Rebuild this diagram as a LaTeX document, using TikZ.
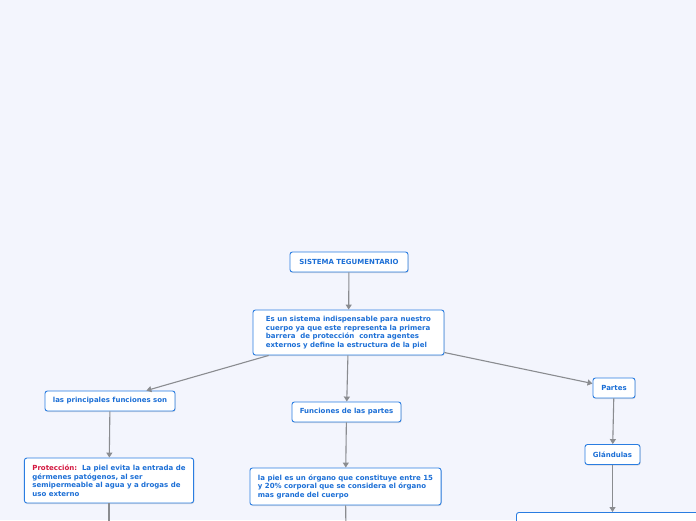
\documentclass[tikz,border=0pt]{standalone}
\usepackage{fontspec}
\setmainfont{DejaVu Sans}
\usetikzlibrary{arrows.meta,shadows}
\definecolor{map-bg}{HTML}{F3F5FD}
\definecolor{map-blue}{HTML}{2A7DE1}
\definecolor{map-text}{HTML}{1C6FD6}
\definecolor{map-red}{HTML}{D3173F}
\definecolor{map-line}{HTML}{8A8C90}

\begin{document}
\begin{tikzpicture}[x=1pt, y=-1pt,
    every node/.style={font=\fontsize{7.0}{8.5}\selectfont\bfseries, text=map-text},
    topic/.style={draw=map-blue, fill=white, line width=0.9pt, rounded corners=2.5pt,
      drop shadow={shadow xshift=0.6pt, shadow yshift=-1pt, opacity=0.25},
      minimum height=20pt, inner sep=0pt},
    textbox/.style={topic, align=left, inner xsep=8pt, inner ysep=5pt},
    link/.style={draw=map-line, line width=1.1pt, -{Triangle[length=5pt, width=6pt]}}]
    \fill[map-bg] (0,0) rectangle (696,520);
    \clip (0,0) rectangle (696,520);
    % top of the map
    \node[topic, minimum width=118pt] (sis) at (349, 262) {SISTEMA TEGUMENTARIO};
    \node[textbox, minimum width=191pt, minimum height=45pt] (desc) at (348.5, 332.5)
      {Es un sistema indispensable para nuestro\\
       cuerpo ya que este representa la primera\\
       barrera\ \ de protección\ \ contra agentes\\
       externos y define la estructura de la piel};
    % second level
    \node[topic, minimum width=130pt] (func) at (110, 401) {las principales funciones son};
    \node[topic, minimum width=109pt] (fpart) at (346.5, 412) {Funciones de las partes};
    \node[topic, minimum width=42pt] (part) at (614, 388) {Partes};
    \node[topic, minimum width=55pt] (glan) at (612.5, 454.5) {Glándulas};
    % third level
    \node[textbox, minimum width=168pt, minimum height=45pt] (prot) at (109, 480.5)
      {\textcolor{map-red}{Protección:}\ \ La piel evita la entrada de\\
       gérmenes patógenos, al ser\\
       semipermeable al agua y a drogas de\\
       uso externo};
    \node[textbox, minimum width=191pt, minimum height=37pt] (org) at (345.5, 486.5)
      {la piel es un órgano que constituye entre 15\\
       y 20\% corporal que se considera el órgano\\
       mas grande del cuerpo};
    \node[textbox, anchor=north west, minimum width=200pt, minimum height=40pt,
      inner ysep=3pt] (sud) at (516, 512)
      {\textcolor{map-red}{Glándulas sudoríparas:}\ \ producen el sudor\\
       que regula la temperatura};
    \coordinate (protdown) at (109, 540);
    \coordinate (orgdown) at (346, 540);
    % connectors
    \draw[link] (sis) -- (desc);
    \draw[link] (desc) -- (func);
    \draw[link] (desc) -- (fpart);
    \draw[link] (desc) -- (part);
    \draw[link] (part) -- (glan);
    \draw[link] (func) -- (prot);
    \draw[link] (fpart) -- (org);
    \draw[link] (glan) -- (glan |- sud.north);
    \draw[link] (prot) -- (protdown);
    \draw[link] (org) -- (orgdown);
\end{tikzpicture}
\end{document}
